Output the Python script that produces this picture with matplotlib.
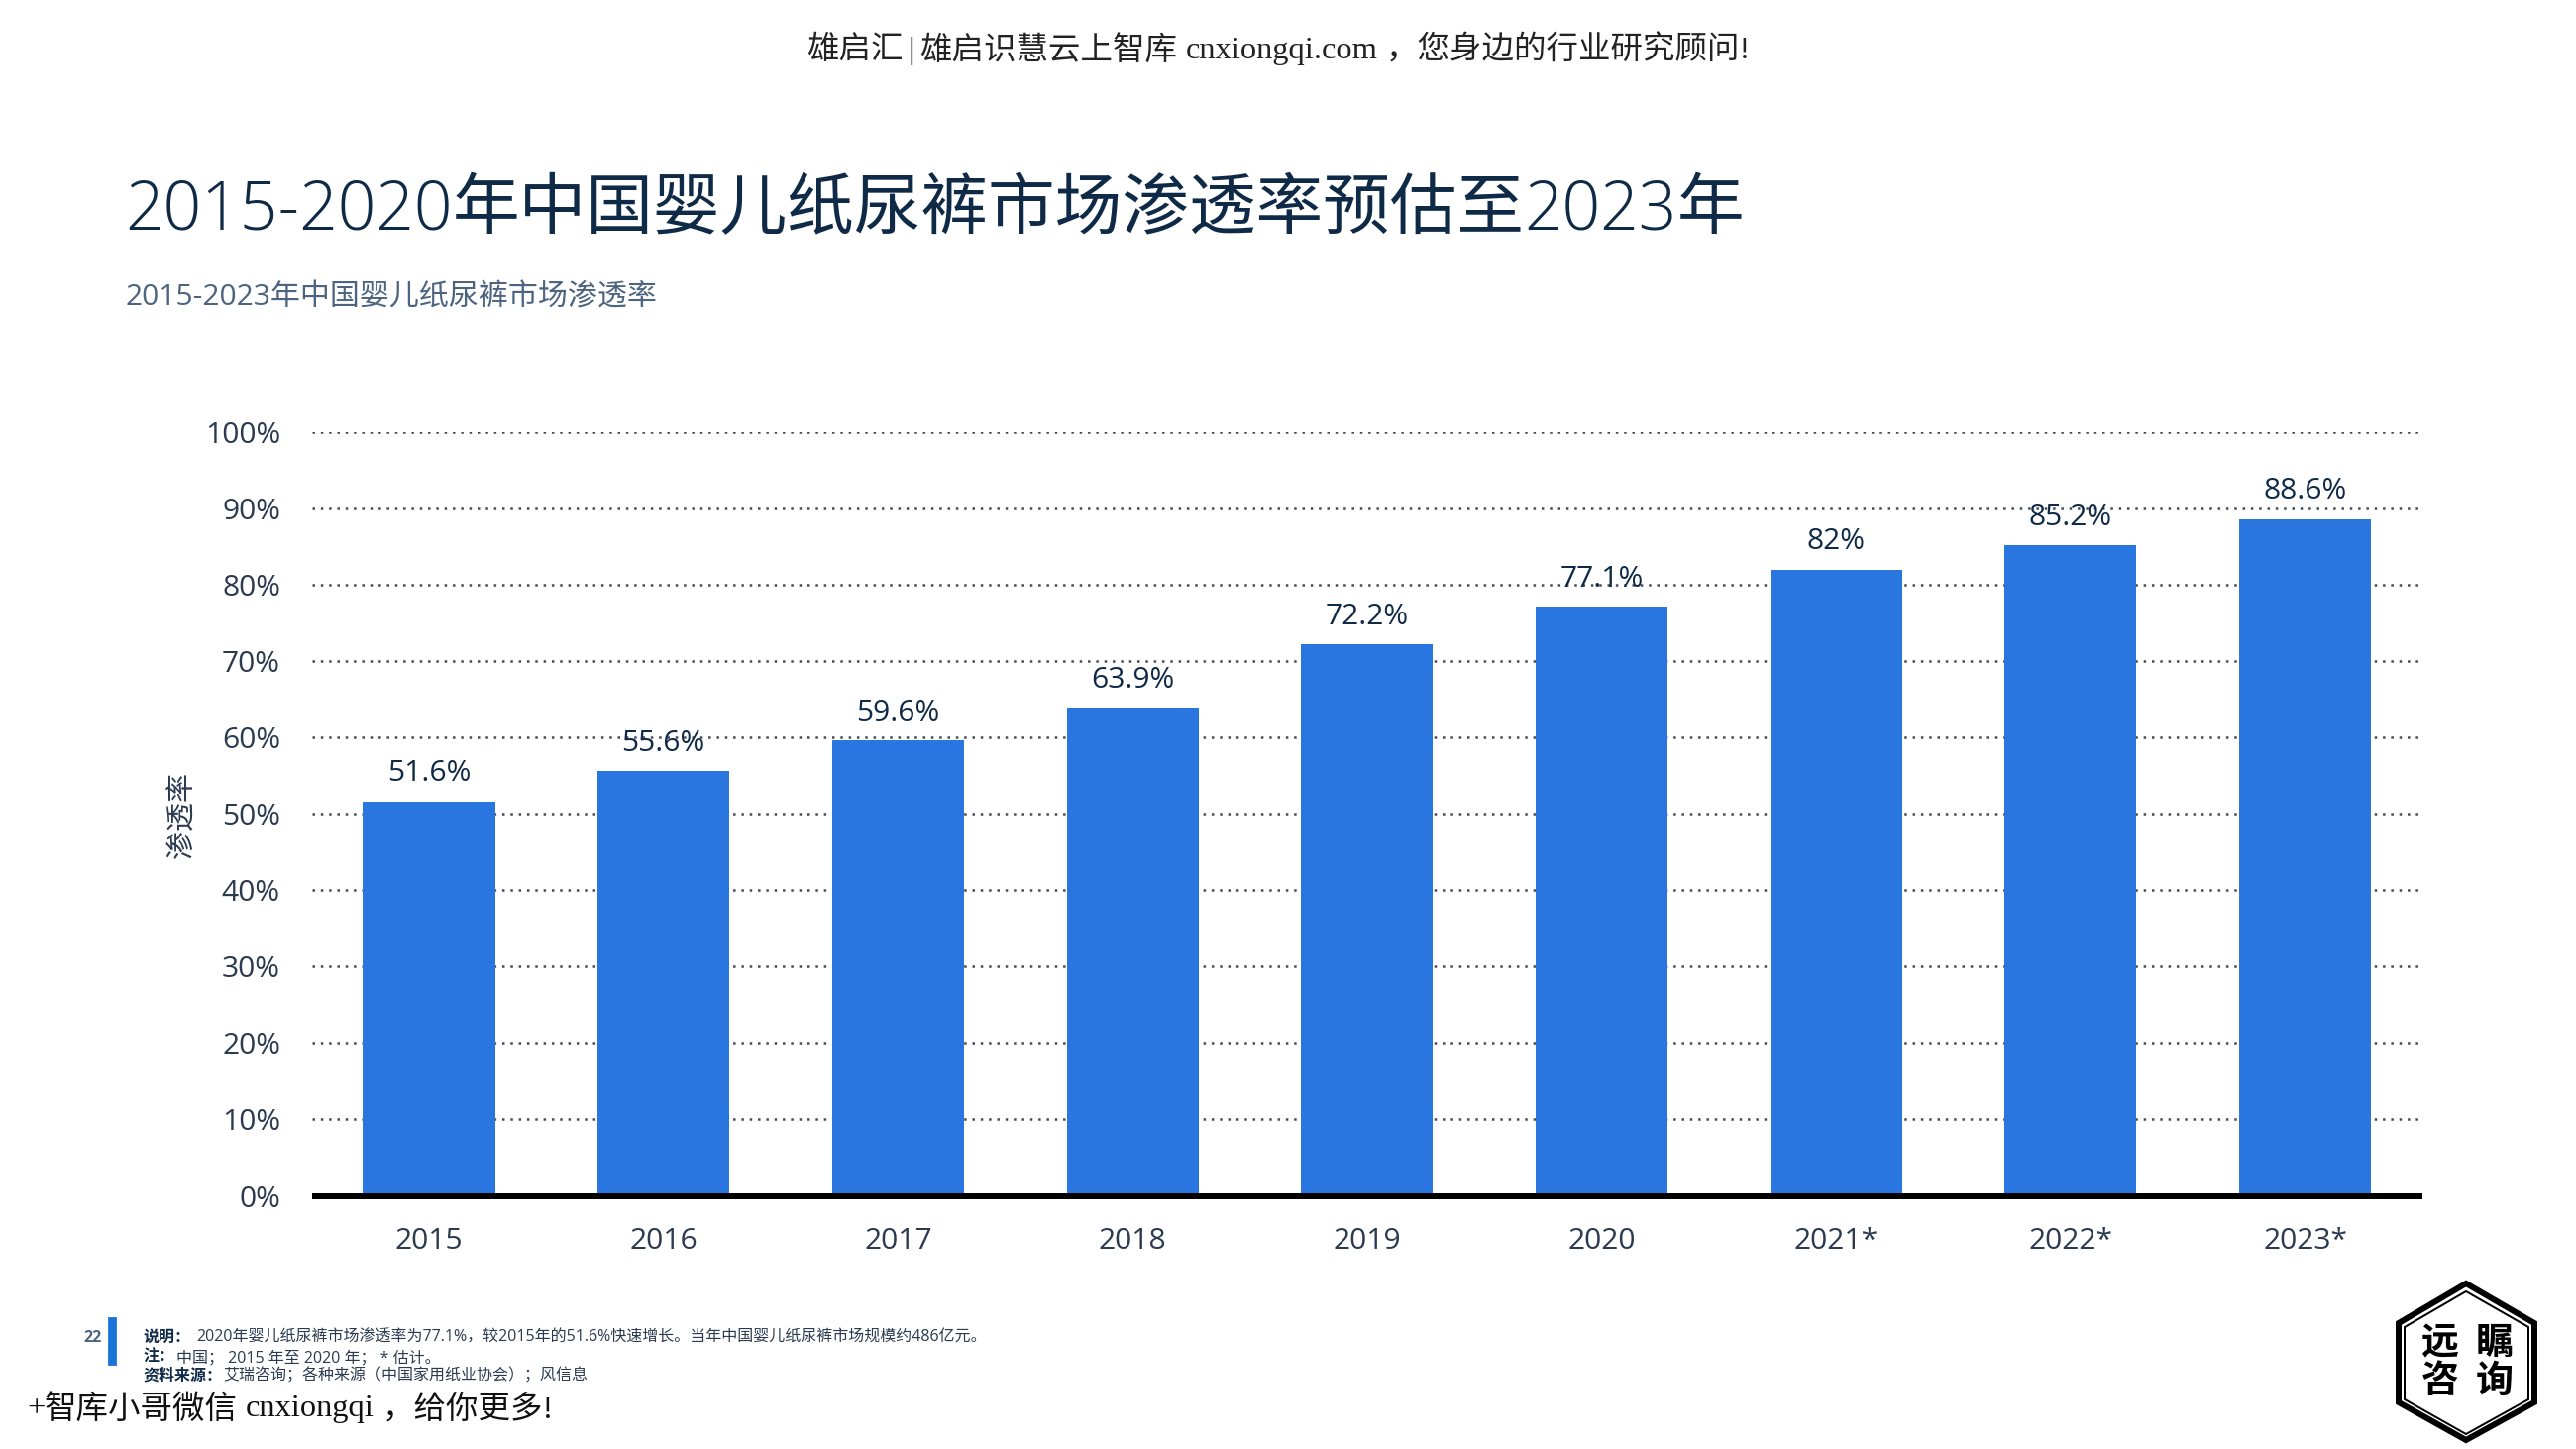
import matplotlib
matplotlib.use("Agg")
import matplotlib.pyplot as plt
from matplotlib.patches import Polygon, Rectangle

years = ["2015", "2016", "2017", "2018", "2019", "2020", "2021*", "2022*", "2023*"]
values = [51.6, 55.6, 59.6, 63.9, 72.2, 77.1, 82, 85.2, 88.6]
value_labels = ["51.6%", "55.6%", "59.6%", "63.9%", "72.2%", "77.1%", "82%", "85.2%", "88.6%"]
yticks = [0, 10, 20, 30, 40, 50, 60, 70, 80, 90, 100]

W, H = 2600, 1462
SANS = ["Open Sans", "Noto Sans CJK SC"]
SERIF = ["Liberation Serif", "Noto Sans CJK SC"]
NAVY = "#0f2a47"
GREY = "#2b3a4e"
BLUE = "#2976e0"

fig = plt.figure(figsize=(W / 200, H / 200), dpi=200, facecolor="white")


def px(v):
    # pixels to points
    return v * 72 / 200


ax = fig.add_axes([315 / W, 1 - 1206.5 / H, (2445 - 315) / W, (1206.5 - 436) / H])
ax.bar(range(len(years)), values, width=0.562, color=BLUE, zorder=3)
ax.set_xlim(-0.4985, 8.5)
ax.set_ylim(0, 100)
ax.set_yticks(yticks)
ax.set_yticklabels([f"{t}%" for t in yticks], family=SANS, fontsize=px(30), color=GREY)
ax.set_xticks(range(len(years)))
ax.set_xticklabels(years, family=SANS, fontsize=px(30), color=GREY)
ax.tick_params(length=0)
ax.tick_params(axis="y", pad=px(32))
ax.tick_params(axis="x", pad=px(31))
ax.grid(axis="y", color="#444c58", linestyle=(0, (1, 2.33)), linewidth=0.9, zorder=1)
for s in ["top", "left", "right"]:
    ax.spines[s].set_visible(False)
ax.spines["bottom"].set_color("black")
ax.spines["bottom"].set_linewidth(px(6))
ax.spines["bottom"].set_capstyle("butt")
ax.spines["bottom"].set_zorder(5)

for i, v in enumerate(values):
    ax.annotate(value_labels[i], (i, v), xytext=(0, px(13.5)), textcoords="offset points",
                ha="center", va="bottom", family=SANS, fontsize=px(30), color=NAVY, zorder=4)

# overlay in pixel coordinates for page furniture
page = fig.add_axes([0, 0, 1, 1], zorder=10)
page.set_xlim(0, W)
page.set_ylim(H, 0)
page.axis("off")
page.patch.set_alpha(0)


def serif_line(x, y, runs, size, color):
    # the watermark font is half-width for latin, so step each run by em units
    for run, ems, ha in runs:
        xt = x + ems * size / 2 if ha == "center" else x
        page.text(xt, y, run, family=SERIF, fontsize=px(size), color=color, ha=ha, va="center", weight="light")
        x += ems * size


serif_line(814, 51, [("雄启汇", 3, "left"), ("|", 0.5, "center"), ("雄启识慧云上智库", 8, "left"),
                     ("cnxiongqi.com", 6.5, "center"), ("\uff0c您身边的行业研究顾问!", 11.5, "left")], 32.5, "#222222")

# title: light latin, heavier CJK, placed piece by piece
renderer = fig.canvas.get_renderer()
title_parts = [("2015-2020", "light"), ("年中国婴儿纸尿裤市场渗透率预估至", "medium"), ("2023", "light"), ("年", "medium")]
x = 126
for part, w in title_parts:
    t = page.text(x, 205, part, family=SANS, fontsize=px(67.7), color=NAVY, weight=w, ha="left", va="center_baseline")
    x += t.get_window_extent(renderer).width

page.text(126, 301, "2015-2023年中国婴儿纸尿裤市场渗透率", family=SANS,
          fontsize=px(30), color="#4d6480", ha="left", va="center")
page.text(185, 822, "渗透率", family=SANS, fontsize=px(29), color=GREY, rotation=90,
          ha="center", va="center", weight="light")

# footnote
page.add_patch(Rectangle((110, 1330), 6, 46, color="#1a73d9"))
page.text(94, 1350, "22", family=SANS, fontsize=px(16), color="#4d6480", ha="center", va="center", weight="bold")
foot = [
    (1350, "说明\uff1a", "2020年婴儿纸尿裤市场渗透率为77.1%\uff0c较2015年的51.6%快速增长。当年中国婴儿纸尿裤市场规模约486亿元。", 198),
    (1370, "注\uff1a", "中国\uff1b 2015 年至 2020 年\uff1b * 估计。", 178),
    (1388, "资料来源\uff1a", "艾瑞咨询\uff1b各种来源\uff08中国家用纸业协会\uff09\uff1b风信息", 225),
]
for y, head, body, xb in foot:
    page.text(144, y, head, family=SANS, fontsize=px(16), color=NAVY, weight="bold", ha="left", va="center")
    page.text(xb, y, body, family=SANS, fontsize=px(16), color=GREY, ha="left", va="center")

serif_line(28, 1422, [("+", 0.5, "center"), ("智库小哥微信", 6, "left"), ("cnxiongqi", 4.5, "center"),
                      ("\uff0c给你更多!", 5.5, "left")], 32.5, "#111111")

# logo
outer = [(2489, 1295), (2421, 1335), (2421, 1415), (2489, 1453), (2558, 1415), (2558, 1335)]
inner = [(2489, 1303), (2427, 1339), (2427, 1412), (2489, 1447), (2552, 1412), (2552, 1339)]
page.add_patch(Polygon(outer, closed=True, fill=False, edgecolor="black", linewidth=px(6)))
page.add_patch(Polygon(inner, closed=True, fill=False, edgecolor="black", linewidth=px(2)))
for x, y, ch in [(2463, 1356, "远"), (2518, 1356, "瞩"), (2463, 1395, "咨"), (2518, 1395, "询")]:
    page.text(x, y, ch, family=SANS, fontsize=px(38), color="black", weight="bold", ha="center", va="center")

fig.savefig("out.png", dpi=200)
